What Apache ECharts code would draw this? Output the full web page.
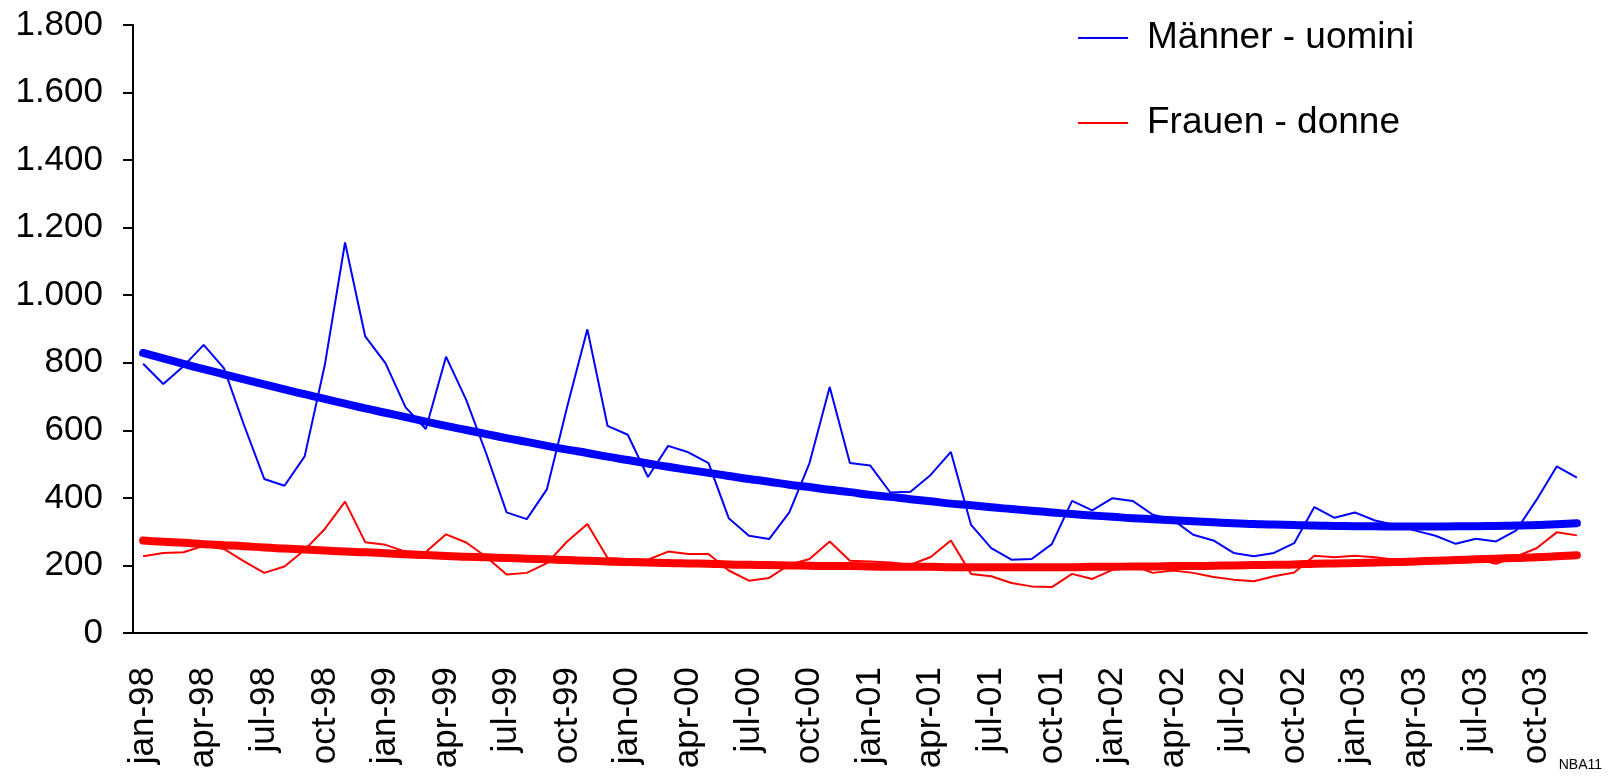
<!DOCTYPE html>
<html>
<head>
<meta charset="utf-8">
<title>Männer - Frauen</title>
<script src="https://cdn.jsdelivr.net/npm/echarts@6/dist/echarts.min.js"></script>
<style>
  html, body { margin: 0; padding: 0; background: #fff; }
  #chart { width: 1610px; height: 776px; }
</style>
</head>
<body>
<div id="chart"></div>
<script>
// monthly categories jan-98 .. dec-03
const categories = [
  "jan-98", "feb-98", "mar-98", "apr-98", "may-98", "jun-98", "jul-98", "aug-98", "sep-98", "oct-98", "nov-98", "dec-98",
  "jan-99", "feb-99", "mar-99", "apr-99", "may-99", "jun-99", "jul-99", "aug-99", "sep-99", "oct-99", "nov-99", "dec-99",
  "jan-00", "feb-00", "mar-00", "apr-00", "may-00", "jun-00", "jul-00", "aug-00", "sep-00", "oct-00", "nov-00", "dec-00",
  "jan-01", "feb-01", "mar-01", "apr-01", "may-01", "jun-01", "jul-01", "aug-01", "sep-01", "oct-01", "nov-01", "dec-01",
  "jan-02", "feb-02", "mar-02", "apr-02", "may-02", "jun-02", "jul-02", "aug-02", "sep-02", "oct-02", "nov-02", "dec-02",
  "jan-03", "feb-03", "mar-03", "apr-03", "may-03", "jun-03", "jul-03", "aug-03", "sep-03", "oct-03", "nov-03", "dec-03"
]

const maenner = [
  797, 737, 790, 853, 784, 615, 456, 436, 523, 794, 1156, 878,
  799, 668, 604, 818, 690, 530, 357, 337, 426, 670, 899, 613,
  587, 462, 554, 535, 503, 340, 288, 278, 357, 503, 728, 503,
  496, 416, 418, 468, 536, 320, 251, 217, 219, 263, 391, 363,
  399, 391, 350, 335, 291, 274, 237, 227, 237, 266, 373, 341,
  357, 333, 320, 303, 288, 264, 279, 271, 304, 394, 493, 460
]

const frauen = [
  227, 237, 239, 258, 249, 212, 178, 197, 246, 308, 389, 269,
  261, 241, 240, 292, 268, 225, 173, 178, 207, 271, 323, 222,
  219, 217, 241, 234, 234, 185, 155, 163, 202, 219, 271, 214,
  212, 209, 202, 225, 274, 175, 168, 148, 138, 136, 175, 160,
  187, 200, 178, 185, 178, 166, 158, 153, 168, 179, 229, 224,
  229, 224, 217, 219, 219, 219, 219, 205, 227, 251, 298, 289
]

// polynomial trend lines
const maennerTrend = [
  829, 813, 797, 781, 766, 751, 736, 721, 707, 693, 679, 665,
  652, 639, 626, 613, 601, 589, 577, 566, 554, 543, 533, 522,
  512, 502, 492, 483, 474, 465, 456, 448, 439, 432, 424, 417,
  409, 403, 396, 390, 383, 378, 372, 367, 362, 357, 352, 348,
  344, 340, 337, 334, 331, 328, 325, 323, 321, 320, 318, 317,
  316, 316, 315, 315, 315, 316, 316, 317, 318, 320, 322, 325
]

const frauenTrend = [
  274, 270, 267, 263, 260, 257, 253, 250, 247, 244, 241, 239,
  236, 233, 231, 228, 226, 224, 222, 220, 218, 216, 214, 212,
  210, 209, 207, 206, 205, 203, 202, 201, 200, 199, 198, 198,
  197, 196, 196, 196, 195, 195, 195, 195, 195, 195, 195, 196,
  196, 197, 197, 198, 198, 199, 200, 201, 202, 203, 205, 206,
  207, 209, 210, 212, 214, 216, 218, 220, 222, 224, 227, 230
]

const yTicks = [0, 200, 400, 600, 800, 1000, 1200, 1400, 1600, 1800]

const font = "Liberation Sans, Arial, sans-serif"

const option = {
  animation: false,
  textStyle: { fontFamily: font, color: "#000" },
  grid: { left: 133, right: 23, top: 25, bottom: 143 },
  legend: {
    left: 1073,
    top: 12,
    orient: "vertical",
    icon: "rect",
    itemWidth: 50,
    itemHeight: 2,
    itemGap: 43,
    data: ["Männer - uomini", "Frauen - donne"],
    textStyle: { fontSize: 37, color: "#000", fontFamily: font, padding: [0, 0, 0, 14], lineHeight: 42 }
  },
  xAxis: {
    type: "category",
    data: categories,
    boundaryGap: true,
    axisLine: { lineStyle: { color: "#000", width: 2 } },
    axisTick: { interval: 0, length: 12, lineStyle: { color: "#000", width: 2 } },
    axisLabel: { interval: 2, rotate: 90, margin: 34, fontSize: 35, color: "#000", fontFamily: font }
  },
  yAxis: {
    type: "value",
    min: yTicks[0],
    max: yTicks[yTicks.length - 1],
    interval: 200,
    splitLine: { show: false },
    axisLine: { show: true, lineStyle: { color: "#000", width: 2 } },
    axisTick: { show: true, length: 10, lineStyle: { color: "#000", width: 2 } },
    axisLabel: {
      margin: 30,
      fontSize: 35,
      color: "#000",
      fontFamily: font,
      formatter: v => String(v).replace(/\B(?=(\d{3})+(?!\d))/g, ".")
    }
  },
  series: [
    {
      name: "Männer - uomini",
      type: "line",
      data: maenner,
      symbol: "none",
      lineStyle: { color: "#0000ff", width: 2 },
      itemStyle: { color: "#0000ff" }
    },
    {
      name: "Frauen - donne",
      type: "line",
      data: frauen,
      symbol: "none",
      lineStyle: { color: "#ff0000", width: 2 },
      itemStyle: { color: "#ff0000" }
    },
    {
      name: "trend m",
      type: "line",
      data: maennerTrend,
      symbol: "none",
      smooth: true,
      lineStyle: { color: "#0000ff", width: 8, cap: "round" }
    },
    {
      name: "trend f",
      type: "line",
      data: frauenTrend,
      symbol: "none",
      smooth: true,
      lineStyle: { color: "#ff0000", width: 8, cap: "round" }
    }
  ],
  graphic: [
    {
      type: "text",
      right: 8,
      bottom: 4,
      style: { text: "NBA11", fontSize: 14, fill: "#000", fontFamily: font }
    }
  ]
}

const chart = echarts.init(document.getElementById("chart"))
chart.setOption(option)
</script>
</body>
</html>
